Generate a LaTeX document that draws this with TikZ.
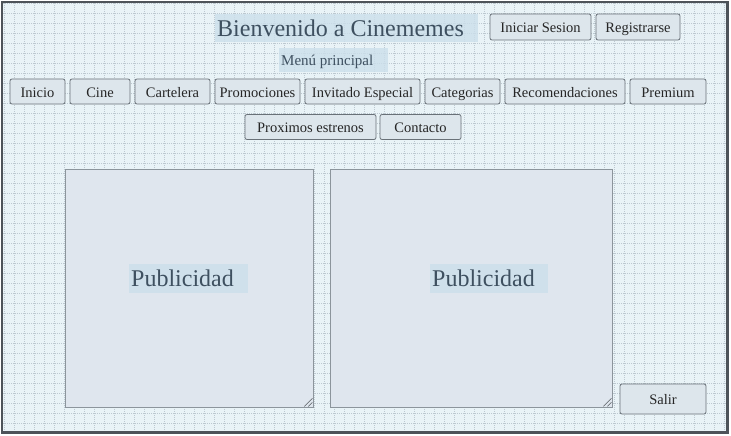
\documentclass[tikz,border=0pt]{standalone}
\usepackage{fontspec}
\setmainfont{Liberation Serif}
\usetikzlibrary{positioning}
\definecolor{fondo}{RGB}{233,243,247}
\definecolor{rejilla}{RGB}{188,200,208}
\definecolor{marco}{RGB}{77,83,89}
\definecolor{grisboton}{RGB}{221,230,236}
\definecolor{bordeboton}{RGB}{105,113,120}
\definecolor{panel}{RGB}{223,230,238}
\definecolor{bordepanel}{RGB}{140,149,156}
\definecolor{resalte}{RGB}{204,223,235}
\definecolor{textotitulo}{RGB}{62,80,96}

\begin{document}
\begin{tikzpicture}[
    x=1pt, y=-1pt,
    btn/.style={
        rectangle, draw=bordeboton, fill=grisboton, line width=0.8pt,
        rounded corners=2pt, inner sep=0pt, outer sep=0pt, minimum height=25pt,
        text height=11pt, text depth=0pt,
        text=black!85, font=\fontsize{14.5}{16}\selectfont
    },
    resaltado/.style={
        rectangle, fill=resalte, fill opacity=0.8, text opacity=1,
        inner xsep=2pt, inner ysep=0pt,
        align=flush left, text=textotitulo
    },
    anuncio/.style={
        rectangle, draw=bordepanel, fill=panel, inner sep=0pt
    },
    lineagrid/.style={rejilla, line width=0.4pt, dash pattern=on 1pt off 1pt}
]
\useasboundingbox (0,0) rectangle (731,436);
\fill[fondo] (2,2) rectangle (728,433);
\foreach \gx in {4,14,...,724} \draw[lineagrid] (\gx,3) -- (\gx,432);
\foreach \gy in {3,13,...,433} \draw[lineagrid] (3,\gy) -- (727,\gy);
\draw[marco, line width=2.5pt] (2,2) rectangle (727.5,432.5);

\node[resaltado, text width=259pt, minimum height=28pt, anchor=west,
    text height=20pt, text depth=2pt,
    font=\fontsize{24}{28}\selectfont] (titulo) at (215,28) {Bienvenido a Cinememes};
\node[btn, minimum width=101pt, minimum height=26pt, anchor=west] (iniciar) at (490,27) {Iniciar Sesion};
\node[btn, minimum width=84pt, minimum height=26pt, right=5pt of iniciar] (registro) {Registrarse};

\node[resaltado, text width=105pt, minimum height=24pt, anchor=west,
    text height=11pt, text depth=0pt,
    font=\fontsize{15}{17}\selectfont] (menu) at (279,60) {Menú principal};

\node[btn, minimum width=55pt, anchor=west] (inicio) at (10,91.5) {Inicio};
\node[btn, minimum width=60pt, right=5pt of inicio] (cine) {Cine};
\node[btn, minimum width=75pt, right=5pt of cine] (cartelera) {Cartelera};
\node[btn, minimum width=85pt, right=5pt of cartelera] (promociones) {Promociones};
\node[btn, minimum width=115pt, right=5pt of promociones] (invitado) {Invitado Especial};
\node[btn, minimum width=75pt, right=5pt of invitado] (categorias) {Categorias};
\node[btn, minimum width=120pt, right=5pt of categorias] (recomendaciones) {Recomendaciones};
\node[btn, minimum width=76pt, right=5pt of recomendaciones] (premium) {Premium};

\node[btn, minimum width=131pt, anchor=west] (proximos) at (245,127) {Proximos estrenos};
\node[btn, minimum width=81pt, right=4pt of proximos] (contacto) {Contacto};

\node[anuncio, minimum width=248pt, minimum height=238pt, anchor=north west] (anuncioizq) at (65,169) {};
\node[anuncio, minimum width=282pt, minimum height=238pt, anchor=north west] (anuncioder) at (330,169) {};
\foreach \p in {anuncioizq,anuncioder} {
    \draw[bordepanel!60!black, line width=0.5pt] ([shift={(-9,-1)}]\p.south east) -- ([shift={(-1,-9)}]\p.south east);
    \draw[bordepanel!60!black, line width=0.5pt] ([shift={(-5,-1)}]\p.south east) -- ([shift={(-1,-5)}]\p.south east);
}
\node[resaltado, text width=115pt, minimum height=29pt, anchor=west,
    text height=19pt, text depth=3pt,
    font=\fontsize{24}{28}\selectfont] (publizq) at (129,278) {Publicidad};
\node[resaltado, text width=114pt, minimum height=29pt, anchor=west,
    text height=19pt, text depth=3pt,
    font=\fontsize{24}{28}\selectfont] (publder) at (430,278) {Publicidad};

\node[btn, minimum width=86pt, minimum height=30pt] (salir) at (663,399) {Salir};
\end{tikzpicture}
\end{document}
